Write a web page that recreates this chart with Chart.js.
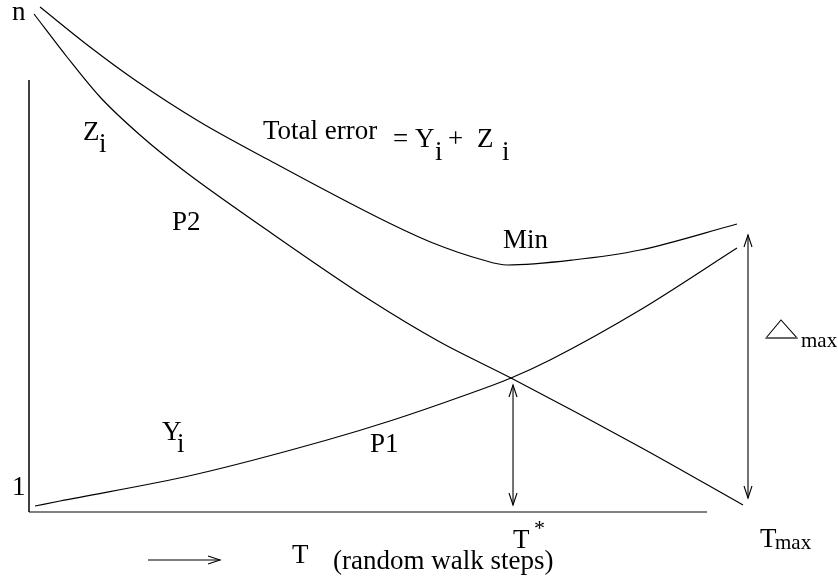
<!DOCTYPE html>
<html><head><meta charset="utf-8">
<script src="https://cdn.jsdelivr.net/npm/chart.js@4/dist/chart.umd.min.js"></script>
<style>html,body{margin:0;padding:0;background:#fff}</style>
</head><body>
<canvas id="c" width="838" height="582"></canvas>
<script>
// T = random walk steps (0 .. 100 = Tmax), V = error (0 = axis level, ~100 = n)
const totalT = [1.54, 8.52, 14.8, 23.88, 33.24, 49.44, 56.42, 63.41, 66.76, 75.98, 85.34, 98.88];
const totalV = [101, 93, 86.4, 78, 70.6, 58.4, 53.8, 50.4, 49.4, 50.4, 52.4, 57.6];
const zT = [0.7, 5.31, 9.92, 15.5, 21.51, 33.24, 47.63, 57.4, 67.32, 85.34, 99.72];
const zV = [99.6, 91, 83, 75.4, 68.4, 56.4, 42.4, 34, 26.8, 13, 1.4];
const yT = [0.84, 4.33, 22.91, 41.62, 50.84, 60.2, 67.32, 72.77, 85.34, 98.88];
const yV = [1.2, 2.2, 7.4, 14.4, 18.4, 23, 26.8, 30.4, 40.4, 52.8];
const axisVTop = 86.4, axisTEnd = 94.69;
const tStar = 67.6, tStarArrow = [25.4, 1.4];
const tMaxArrowT = 100.42, tMaxArrow = [55.4, 2.8];
const dirArrowT = [16.62, 26.68], dirArrowV = -9.6;

const pts = (xs, ys) => xs.map((x, i) => ({x, y: ys[i]}));
const line = (data, extra) => Object.assign({data, showLine: true, pointRadius: 0, borderColor: '#000', borderWidth: 1.2, fill: false}, extra || {});

const FONT = "'Liberation Serif', 'Times New Roman', serif";
const texts = [
  ['n', 12, 20, 27], ['Z', 83, 140, 27], ['i', 99, 152, 27],
  ['Total error', 263, 139, 27], ['= Y', 393, 147, 27], ['i', 435, 160, 27],
  ['+', 448, 147, 27], ['Z', 477, 147, 27], ['i', 502, 160, 27],
  ['P2', 172, 230, 27], ['Min', 503, 248, 27], ['Y', 162, 440, 27], ['i', 177, 452, 27],
  ['P1', 370, 452, 27], ['1', 12, 495, 27], ['T', 292, 563, 27],
  ['(random walk steps)', 333, 569, 27], ['T', 513, 548, 27], ['*', 534, 535, 22],
  ['max', 801, 347, 21], ['T', 760, 547, 27], ['max', 775, 549, 21]
];

const deco = {
  id: 'deco',
  afterDatasetsDraw(chart) {
    const {ctx, scales: {x, y}} = chart;
    ctx.save();
    ctx.strokeStyle = '#000'; ctx.lineWidth = 1.1;
    function head(px, py, dx, dy) {
      const L = 12, W = 4;
      const nx = -dy, ny = dx;
      ctx.beginPath();
      ctx.moveTo(px - dx * L + nx * W, py - dy * L + ny * W);
      ctx.lineTo(px, py);
      ctx.lineTo(px - dx * L - nx * W, py - dy * L - ny * W);
      ctx.stroke();
    }
    [[tStar, tStarArrow], [tMaxArrowT, tMaxArrow]].forEach(([t, vv]) => {
      const px = x.getPixelForValue(t);
      head(px, y.getPixelForValue(vv[0]), 0, -1);
      head(px, y.getPixelForValue(vv[1]), 0, 1);
    });
    head(x.getPixelForValue(dirArrowT[1]), y.getPixelForValue(dirArrowV), 1, 0);
    // triangle (Delta)
    ctx.beginPath();
    ctx.moveTo(766, 338); ctx.lineTo(781, 320); ctx.lineTo(797, 338); ctx.closePath();
    ctx.lineWidth = 1.1; ctx.stroke();
    ctx.strokeStyle = '#666'; ctx.lineWidth = 2; ctx.beginPath(); ctx.moveTo(766, 338); ctx.lineTo(797, 338); ctx.stroke();
    ctx.fillStyle = '#000'; ctx.textBaseline = 'alphabetic'; ctx.textAlign = 'left';
    texts.forEach(([s, tx, ty, fs]) => { ctx.font = fs + 'px ' + FONT; ctx.fillText(s, tx, ty); });
    ctx.restore();
  }
};

new Chart(document.getElementById('c'), {
  type: 'scatter',
  data: {
    datasets: [
      line(pts(totalT, totalV), {cubicInterpolationMode: 'monotone'}),
      line(pts(zT, zV), {cubicInterpolationMode: 'monotone'}),
      line(pts(yT, yV), {cubicInterpolationMode: 'monotone'}),
      line([{x: 0, y: axisVTop}, {x: 0, y: 0}], {borderWidth: 1.5}),
      line([{x: 0, y: 0}, {x: axisTEnd, y: 0}], {borderColor: '#808080', borderWidth: 2.2}),
      line([{x: tStar, y: tStarArrow[0]}, {x: tStar, y: tStarArrow[1]}], {borderWidth: 1.1}),
      line([{x: tMaxArrowT, y: tMaxArrow[0]}, {x: tMaxArrowT, y: tMaxArrow[1]}], {borderWidth: 1.1}),
      line([{x: dirArrowT[0], y: dirArrowV}, {x: dirArrowT[1], y: dirArrowV}], {borderWidth: 1.1})
    ]
  },
  options: {
    responsive: false, animation: false, devicePixelRatio: 1,
    layout: {padding: 0},
    plugins: {legend: {display: false}, tooltip: {enabled: false}},
    scales: {
      x: {type: 'linear', display: false, min: -29 / 7.16, max: (838 - 29) / 7.16},
      y: {type: 'linear', display: false, min: -14, max: 102.4}
    }
  },
  plugins: [deco]
});
</script>
</body></html>
